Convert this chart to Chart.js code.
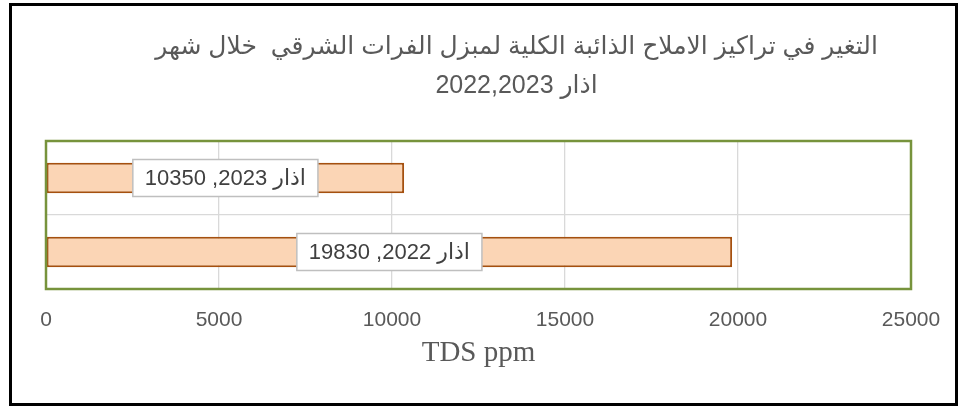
<!DOCTYPE html>
<html>
<head>
<meta charset="utf-8">
<script src="https://cdn.jsdelivr.net/npm/chart.js@4/dist/chart.umd.min.js"></script>
<style>
  body { margin: 0; background: #fff; }
  #wrap { position: relative; width: 963px; height: 409px; }
  #frame {
    position: absolute; left: 9px; top: 3px; width: 949px; height: 403px;
    box-sizing: border-box; border: 3px solid #000; pointer-events: none;
  }
</style>
</head>
<body>
<div id="wrap">
  <canvas id="tds" width="963" height="409"></canvas>
  <div id="frame"></div>
</div>
<script>
let titleLines = [
  'التغير في تراكيز الاملاح الذائبة الكلية لمبزل الفرات الشرقي  خلال شهر',
  'اذار 2022,2023',
];
let categories = ['اذار 2023', 'اذار 2022'];
let tdsValues = [10350, 19830];
let axisTitle = 'TDS ppm';
let xMin = 0;
let xMax = 25000;
let xStep = 5000;

let ctx = document.getElementById('tds').getContext('2d');

// the title in the original sits a bit right of the plot centre
const titleShift = {
  id: 'titleShift',
  afterLayout(chart) {
    chart.titleBlock.left += 38;
    chart.titleBlock.right += 38;
  },
};

// green frame round the plot area
const plotBorder = {
  id: 'plotBorder',
  afterDatasetsDraw(chart) {
    const { ctx, chartArea } = chart;
    ctx.save();
    ctx.strokeStyle = '#77933C';
    ctx.lineWidth = 2.5;
    ctx.strokeRect(chartArea.left, chartArea.top, chartArea.right - chartArea.left, chartArea.bottom - chartArea.top);
    ctx.restore();
  },
};

// boxed labels "category, value" in the middle of each bar
const barLabels = {
  id: 'barLabels',
  afterDraw(chart) {
    const { ctx } = chart;
    const meta = chart.getDatasetMeta(0);
    ctx.save();
    ctx.font = '22px "Liberation Sans", Arial, "DejaVu Sans", sans-serif';
    ctx.textAlign = 'center';
    ctx.textBaseline = 'middle';
    meta.data.forEach((bar, i) => {
      const text = categories[i] + ', ' + tdsValues[i];
      const cx = (bar.x + bar.base) / 2;
      const cy = bar.y;
      const w = ctx.measureText(text).width + 24;
      const h = 37;
      ctx.fillStyle = '#fff';
      ctx.fillRect(cx - w / 2, cy - h / 2, w, h);
      ctx.strokeStyle = '#BFBFBF';
      ctx.lineWidth = 1.5;
      ctx.strokeRect(cx - w / 2, cy - h / 2, w, h);
      ctx.fillStyle = '#404040';
      ctx.fillText(text, cx, cy + 1);
    });
    ctx.restore();
  },
};

new Chart(ctx, {
  type: 'bar',
  data: {
    labels: categories,
    datasets: [
      {
        data: tdsValues,
        backgroundColor: '#FBD5B5',
        borderColor: '#A5500F',
        borderWidth: 2,
        borderSkipped: false,
        categoryPercentage: 1,
        barPercentage: 0.41,
      },
    ],
  },
  options: {
    indexAxis: 'y',
    responsive: false,
    animation: false,
    layout: {
      padding: { top: 10, left: 46, right: 52, bottom: 38 },
    },
    plugins: {
      legend: { display: false },
      tooltip: { enabled: false },
      title: {
        display: true,
        text: titleLines,
        color: '#595959',
        font: { family: '"Liberation Sans", Arial, "DejaVu Sans", sans-serif', size: 25, weight: 'normal', lineHeight: 1.56 },
        padding: { top: 17.5, bottom: 35.5 },
      },
    },
    scales: {
      x: {
        min: xMin,
        max: xMax,
        ticks: {
          stepSize: xStep,
          color: '#595959',
          padding: 3,
          font: { family: '"Liberation Sans", Arial, sans-serif', size: 21 },
          callback: (value) => String(value),
        },
        grid: { color: '#D9D9D9', lineWidth: 1.3, drawTicks: true, tickLength: 16, tickColor: 'transparent' },
        border: { display: false },
        title: {
          display: true,
          text: axisTitle,
          color: '#595959',
          font: { family: '"Liberation Serif", "Times New Roman", serif', size: 29 },
          padding: { top: 0, bottom: 0 },
        },
      },
      y: {
        ticks: { display: false },
        grid: { color: '#D9D9D9', lineWidth: 1.3, drawTicks: false, offset: true },
        border: { display: false },
      },
    },
  },
  plugins: [titleShift, plotBorder, barLabels],
});
</script>
</body>
</html>
